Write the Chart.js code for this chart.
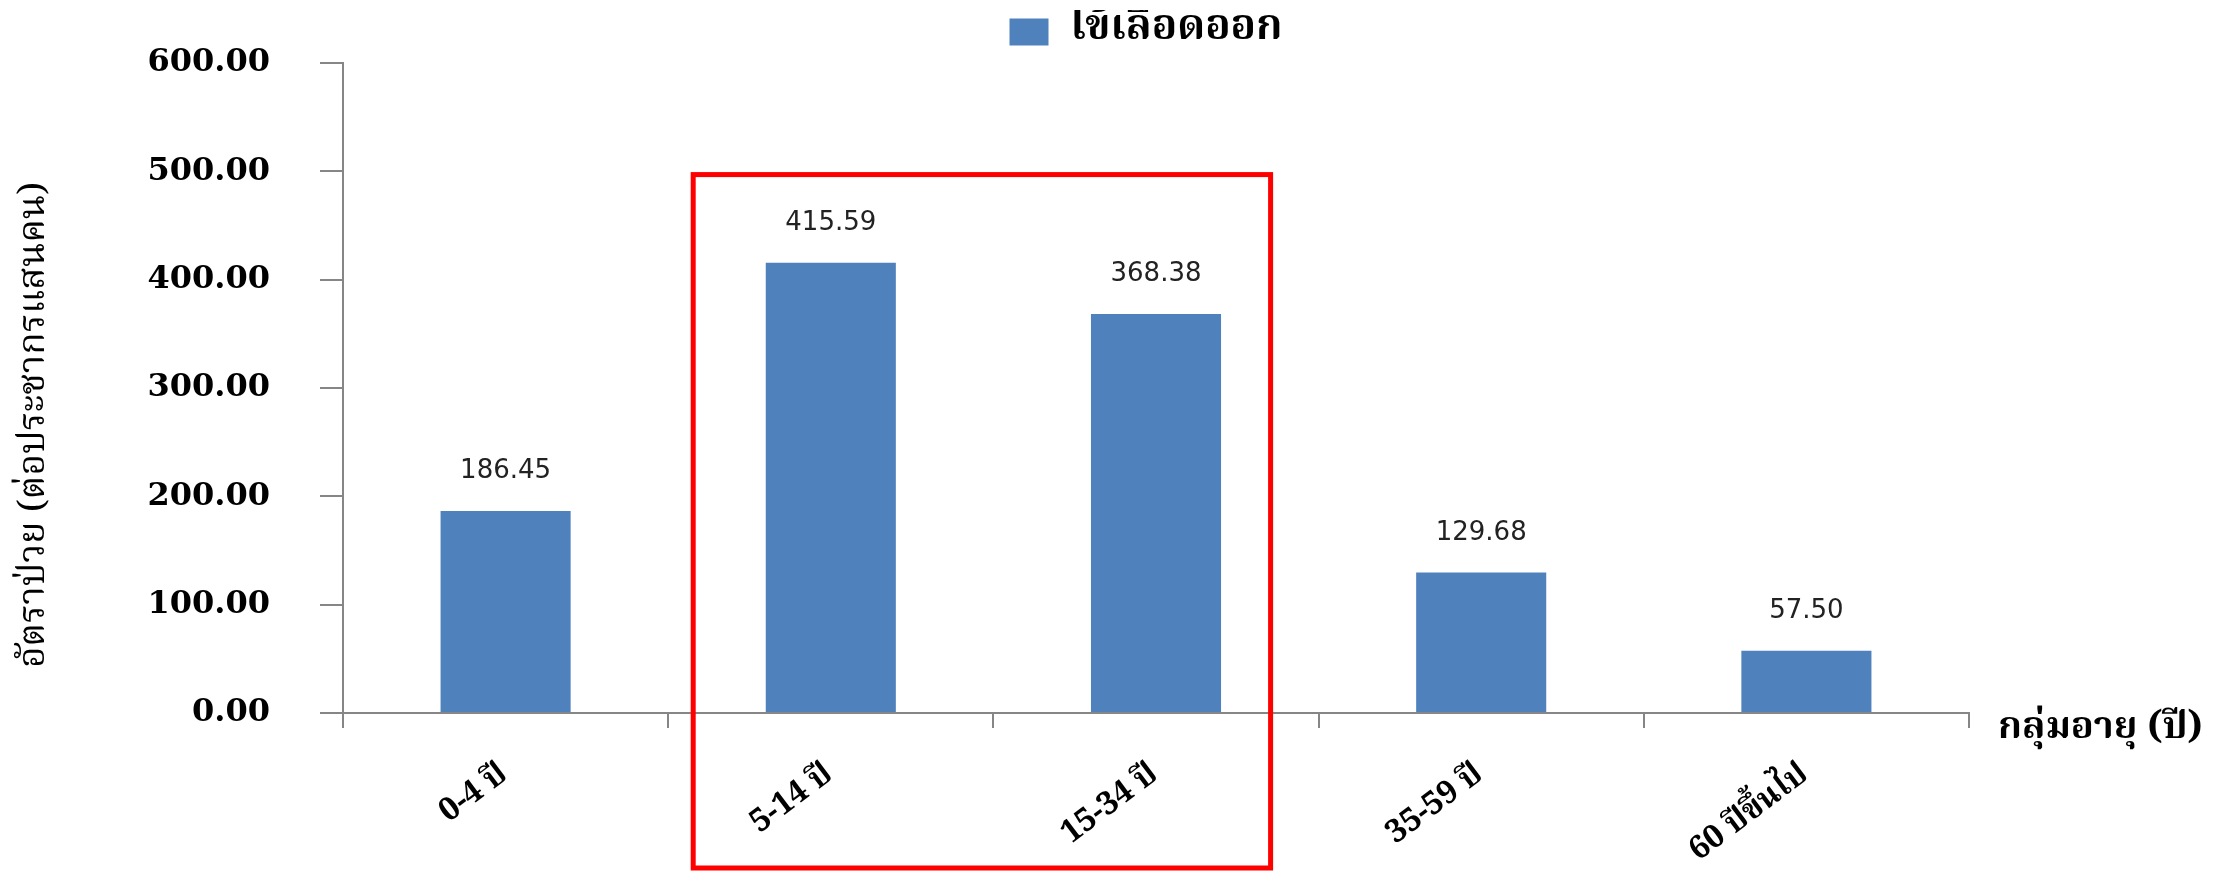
<!DOCTYPE html>
<html>
<head>
<meta charset="utf-8">
<script src="https://cdn.jsdelivr.net/npm/chart.js@4.4.1/dist/chart.umd.min.js"></script>
<style>
  html, body { margin: 0; padding: 0; background: #fff; }
  #wrap { width: 2224px; height: 871px; }
</style>
</head>
<body>
<div id="wrap"><canvas id="dhfChart"></canvas></div>
<script>
// chart data
var ageGroups = ['0-4 ปี', '5-14 ปี', '15-34 ปี', '35-59 ปี', '60 ปีขึ้นไป'];
var dhfRates = [186.45, 415.59, 368.38, 129.68, 57.50];
var seriesName = 'ไข้เลือดออก';
var yTitle = 'อัตราป่วย (ต่อประชากรแสนคน)';
var xTitle = 'กลุ่มอายุ (ปี)';
var yMin = 0, yMax = 600, yStep = 100;

var thaiFont = '"Norasi", "Noto Serif Thai", "Loma", "Noto Sans Thai", "DejaVu Serif", serif';
var axisGray = '#868686';

// numbers above the bars
var barValues = {
  id: 'barValues',
  afterDatasetsDraw: function (chart) {
    var ctx = chart.ctx;
    var meta = chart.getDatasetMeta(0);
    ctx.save();
    ctx.font = '26px "DejaVu Sans", sans-serif';
    ctx.fillStyle = '#222';
    ctx.textAlign = 'center';
    ctx.textBaseline = 'alphabetic';
    meta.data.forEach(function (bar, i) {
      ctx.fillText(chart.data.datasets[0].data[i].toFixed(2), bar.x, bar.y - 33);
    });
    ctx.restore();
  }
};

// axis titles, legend position and the red highlight box
var extras = {
  id: 'extras',
  afterLayout: function (chart) {
    // centre the legend over the plot area
    var lg = chart.legend;
    var w = lg.right - lg.left;
    var c = (chart.chartArea.left + chart.chartArea.right) / 2 - 10;
    lg.left = c - w / 2;
    lg.right = c + w / 2;
  },
  afterDraw: function (chart) {
    var ctx = chart.ctx;
    var x = chart.scales.x;
    var y = chart.scales.y;
    ctx.save();
    ctx.fillStyle = '#000';

    // x title, to the right of the axis end
    ctx.font = 'bold 38px ' + thaiFont;
    ctx.textAlign = 'left';
    ctx.textBaseline = 'middle';
    ctx.fillText(xTitle, chart.chartArea.right + 29, x.top + 19);

    // y title, rotated
    ctx.save();
    ctx.translate(38, (y.top + y.bottom) / 2 + 37);
    ctx.rotate(-Math.PI / 2);
    ctx.font = '37px ' + thaiFont;
    ctx.textAlign = 'center';
    ctx.textBaseline = 'middle';
    ctx.fillText(yTitle, 0, 0);
    ctx.restore();

    // red box round the 5-14 and 15-34 groups
    var half = (x.getPixelForValue(1) - x.getPixelForValue(0)) / 2;
    var left = x.getPixelForValue(1) - half + 25;
    var right = x.getPixelForValue(2) + half - 48;
    var top = y.getPixelForValue(497);
    ctx.strokeStyle = '#ff0000';
    ctx.lineWidth = 5;
    ctx.strokeRect(left, top, right - left, chart.height - 3 - top);
    ctx.restore();
  }
};

var ctx = document.getElementById('dhfChart').getContext('2d');
var myChart = new Chart(ctx, {
  type: 'bar',
  data: {
    labels: ageGroups,
    datasets: [{
      label: seriesName,
      data: dhfRates,
      backgroundColor: '#4F81BD',
      borderWidth: 0,
      barPercentage: 0.4,
      categoryPercentage: 1.0
    }]
  },
  options: {
    responsive: true,
    maintainAspectRatio: false,
    animation: false,
    layout: { padding: { top: 10, right: 255, bottom: 0, left: 0 } },
    plugins: {
      legend: {
        display: true,
        position: 'top',
        labels: {
          boxWidth: 39,
          boxHeight: 27,
          padding: 1,
          color: '#000',
          font: { family: thaiFont, size: 42, weight: 'bold' }
        }
      },
      tooltip: { enabled: false }
    },
    scales: {
      x: {
        afterFit: function (scale) { scale.height = 158; },
        grid: {
          display: true,
          drawOnChartArea: false,
          drawTicks: true,
          tickLength: 15,
          color: axisGray,
          lineWidth: 2,
          offset: true
        },
        border: { display: true, color: axisGray, width: 2 },
        ticks: {
          autoSkip: false,
          minRotation: 37,
          maxRotation: 37,
          padding: 30,
          color: '#000',
          font: { family: thaiFont, size: 32, weight: 'bold' }
        }
      },
      y: {
        min: yMin,
        max: yMax,
        afterFit: function (scale) {
          scale.width = 343;
          // the big label padding should not push the plot down
          scale.paddingTop = 19;
          scale.paddingBottom = 19;
        },
        grid: {
          display: true,
          drawOnChartArea: false,
          drawTicks: true,
          tickLength: 23,
          color: axisGray,
          lineWidth: 2
        },
        border: { display: true, color: axisGray, width: 2 },
        ticks: {
          stepSize: yStep,
          padding: 50,
          color: '#000',
          font: { family: '"DejaVu Serif", serif', size: 32, weight: 'bold' },
          callback: function (v) { return Number(v).toFixed(2); }
        },
        title: { display: false }
      }
    }
  },
  plugins: [barValues, extras]
});
</script>
</body>
</html>
